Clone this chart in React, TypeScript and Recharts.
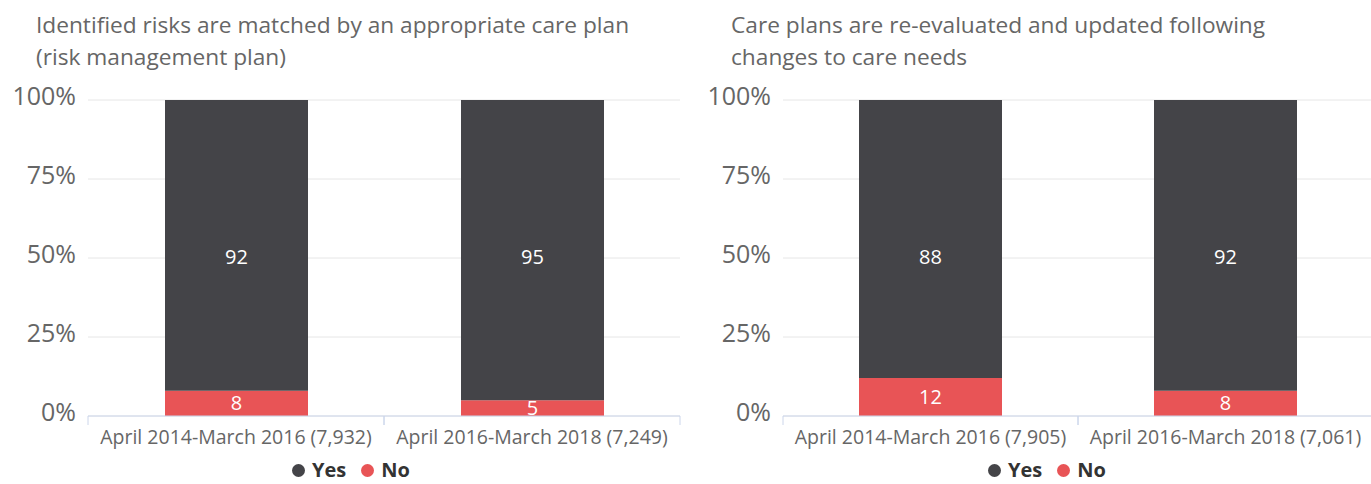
import React from 'react';
import { BarChart, Bar, XAxis, YAxis, CartesianGrid, LabelList } from 'recharts';

const categoriesA = ['April 2014-March 2016 (7,932)', 'April 2016-March 2018 (7,249)'];
const yesA = [92, 95];
const noA = [8, 5];
const categoriesB = ['April 2014-March 2016 (7,905)', 'April 2016-March 2018 (7,061)'];
const yesB = [88, 92];
const noB = [12, 8];
const yTicks = [0, 25, 50, 75, 100];
const titleA = ['Identified risks are matched by an appropriate care plan', '(risk management plan)'];
const titleB = ['Care plans are re-evaluated and updated following', 'changes to care needs'];
const seriesNames = ['Yes', 'No'];

const DARK = '#444448';
const RED = '#e85456';
const FONT = '"Open Sans", "Noto Sans", sans-serif';

const build = (cats: string[], yes: number[], no: number[]) =>
  cats.map((c, i) => ({ name: c, Yes: yes[i], No: no[i] }));

const XTick = (props: any) => {
  const { x, y, payload, width } = props;
  const half = (width || 592) / 4;
  return (
    <g>
      <line x1={x - half} x2={x - half} y1={y} y2={y + 9} stroke="#ccd6eb" />
      <line x1={x + half} x2={x + half} y1={y} y2={y + 9} stroke="#ccd6eb" />
      <text x={x} y={y + 28} textAnchor="middle" fill="#666" fontSize={19.5} fontFamily={FONT}>
        {payload.value}
      </text>
    </g>
  );
};

const YTick = (props: any) => {
  const { x, y, payload } = props;
  return (
    <text x={x} y={y + 5} textAnchor="end" fill="#666" fontSize={25} fontFamily={FONT}>
      {payload.value}%
    </text>
  );
};

// "Yes" label is centred on the whole (100%) column, as in the reference
const YesLabel = (props: any) => {
  const { x, y, width, height, value } = props;
  const cy = y + (height * 50) / Number(value);
  return (
    <text x={x + width / 2} y={cy + 6} textAnchor="middle" fill="#fff" fontSize={20} fontFamily={FONT}>
      {value}
    </text>
  );
};

const NoLabel = (props: any) => {
  const { x, y, width, height, value } = props;
  return (
    <text x={x + width / 2} y={y + height / 2 + 7} textAnchor="middle" fill="#fff" fontSize={20} fontFamily={FONT}>
      {value}
    </text>
  );
};

const Chart = ({ data, width, right }: { data: any[]; width: number; right: number }) => (
  <BarChart width={width} height={484} data={data} margin={{ top: 100, right, left: 0, bottom: 28 }}>
    <CartesianGrid vertical={false} stroke="#e6e6e6" />
    <XAxis
      dataKey="name"
      tick={<XTick />}
      tickLine={false}
      tickSize={0}
      tickMargin={0}
      height={40}
      axisLine={{ stroke: '#ccd6eb' }}
      interval={0}
    />
    <YAxis
      domain={[0, 100]}
      ticks={yTicks}
      width={88}
      tick={<YTick />}
      tickLine={false}
      axisLine={false}
      tickSize={0}
      tickMargin={12}
    />
    <Bar dataKey="No" stackId="a" fill={RED} barSize={143} isAnimationActive={false}>
      <LabelList dataKey="No" content={<NoLabel />} />
    </Bar>
    <Bar dataKey="Yes" stackId="a" fill={DARK} barSize={143} isAnimationActive={false}>
      <LabelList dataKey="Yes" content={<YesLabel />} />
    </Bar>
  </BarChart>
);

const Title = ({ lines, left }: { lines: string[]; left: number }) => (
  <div
    style={{
      position: 'absolute',
      left,
      top: 9,
      fontFamily: FONT,
      fontSize: 22.7,
      lineHeight: '32px',
      color: '#666',
      whiteSpace: 'nowrap',
    }}
  >
    {lines.map((l, i) => (
      <div key={i}>{l}</div>
    ))}
  </div>
);

const Legend = ({ left }: { left: number }) => (
  <div
    style={{
      position: 'absolute',
      left,
      top: 459,
      height: 22,
      display: 'flex',
      alignItems: 'center',
      fontFamily: FONT,
      fontSize: 20,
      lineHeight: '22px',
      fontWeight: 700,
      color: '#333',
    }}
  >
    {seriesNames.map((n, i) => (
      <div key={n} style={{ display: 'flex', alignItems: 'center', marginRight: i === 0 ? 15 : 0 }}>
        <span
          style={{
            width: 13,
            height: 13,
            borderRadius: '50%',
            background: i === 0 ? DARK : RED,
            display: 'inline-block',
            marginRight: 7,
          }}
        />
        <span>{n}</span>
      </div>
    ))}
  </div>
);

export default function App() {
  return (
    <div
      style={{
        position: 'absolute',
        left: 0,
        top: 0,
        width: 1371,
        height: 484,
        overflow: 'hidden',
        background: '#fff',
      }}
    >
      <div style={{ position: 'absolute', left: 0, top: 0 }}>
        <Chart data={build(categoriesA, yesA, noA)} width={685} right={5} />
      </div>
      <div style={{ position: 'absolute', left: 695, top: 0 }}>
        <Chart data={build(categoriesB, yesB, noB)} width={678} right={0} />
      </div>
      <Title lines={titleA} left={36} />
      <Title lines={titleB} left={731} />
      <Legend left={292} />
      <Legend left={988} />
    </div>
  );
}
